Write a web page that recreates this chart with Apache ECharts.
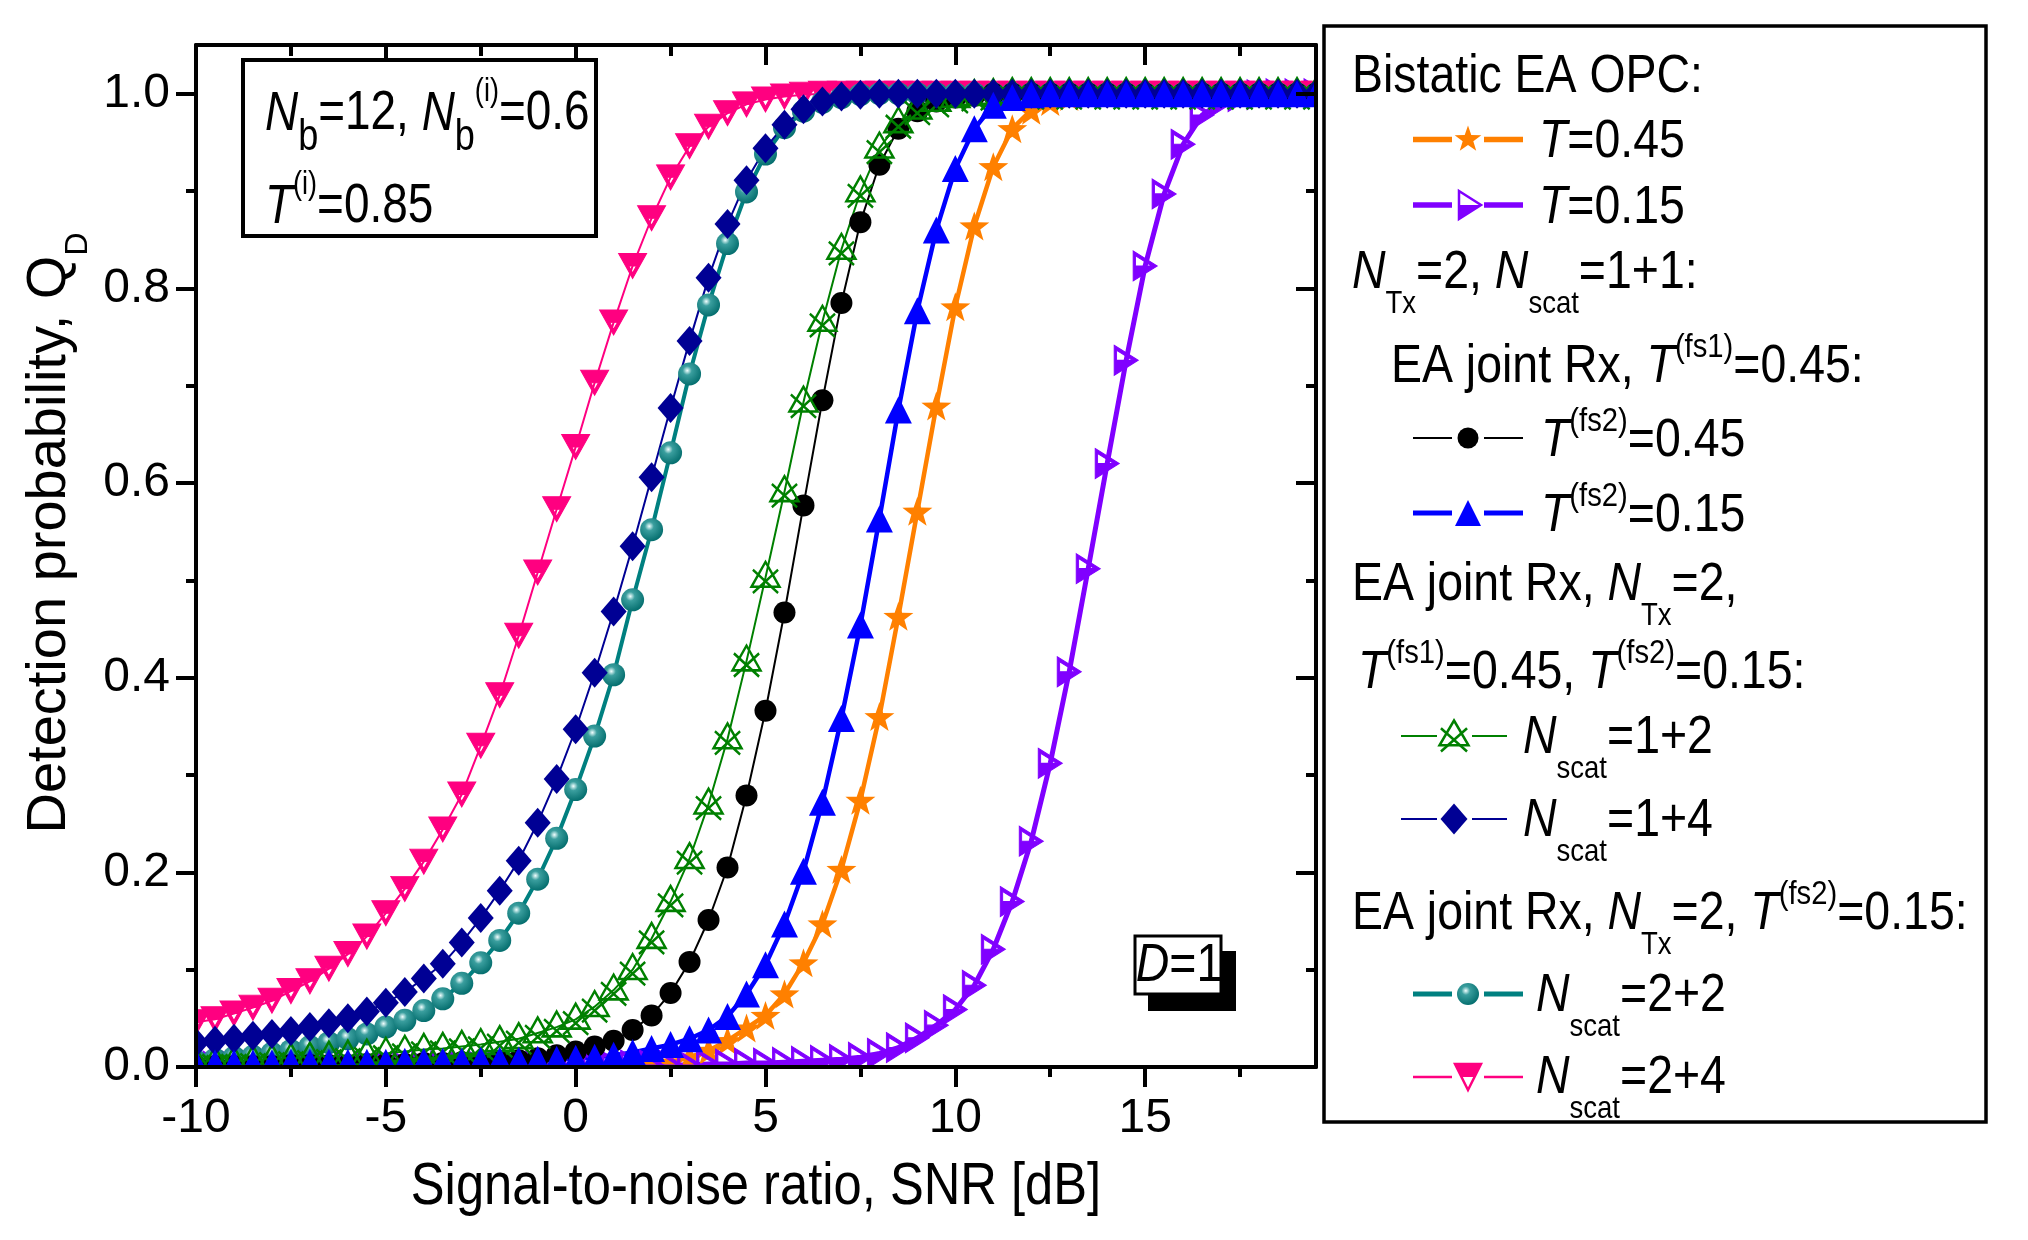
<!DOCTYPE html>
<html>
<head>
<meta charset="utf-8">
<title>Detection probability vs SNR</title>
<script src="https://cdn.jsdelivr.net/npm/echarts@6.0.0/dist/echarts.min.js"></script>
<style>
html, body { margin: 0; padding: 0; background: #fff; }
#chart { width: 2028px; height: 1240px; }
</style>
</head>
<body>
<div id="chart"></div>
<script>
// SNR grid [dB]
var snr = [-10, -9.5, -9, -8.5, -8, -7.5, -7, -6.5, -6, -5.5,
  -5, -4.5, -4, -3.5, -3, -2.5, -2, -1.5, -1, -0.5,
  0, 0.5, 1, 1.5, 2, 2.5, 3, 3.5, 4, 4.5,
  5, 5.5, 6, 6.5, 7, 7.5, 8, 8.5, 9, 9.5,
  10, 10.5, 11, 11.5, 12, 12.5, 13, 13.5, 14, 14.5,
  15, 15.5, 16, 16.5, 17, 17.5, 18, 18.5, 19, 19.5];

// Bistatic EA OPC, T=0.45
var opcT045 = [0, 0, 0, 0, 0, 0, 0, 0, 0, 0,
  0, 0, 0, 0, 0, 0, 0, 0, 0, 0,
  0, 0.001, 0.001, 0.002, 0.003, 0.005, 0.010, 0.017, 0.027, 0.040,
  0.053, 0.075, 0.107, 0.147, 0.203, 0.274, 0.360, 0.463, 0.571, 0.679,
  0.781, 0.864, 0.925, 0.964, 0.983, 0.992, 0.997, 0.999, 1, 1,
  1, 1, 1, 1, 1, 1, 1, 1, 1, 1];
// Bistatic EA OPC, T=0.15
var opcT015 = [0.001, 0.001, 0.001, 0.001, 0.001, 0.001, 0.001, 0.001, 0.001, 0.001,
  0.001, 0.001, 0.001, 0.001, 0.001, 0.001, 0.001, 0.001, 0.001, 0.001,
  0.001, 0.001, 0.001, 0.002, 0.002, 0.002, 0.002, 0.003, 0.003, 0.004,
  0.004, 0.005, 0.006, 0.007, 0.008, 0.010, 0.014, 0.020, 0.030, 0.043,
  0.059, 0.084, 0.121, 0.170, 0.232, 0.312, 0.406, 0.512, 0.620, 0.726,
  0.823, 0.897, 0.948, 0.978, 0.991, 0.997, 0.999, 1, 1, 1];
// EA joint Rx, T(fs1)=0.45, T(fs2)=0.45
var jointFs045 = [0.001, 0.001, 0.001, 0.001, 0.001, 0.002, 0.002, 0.002, 0.002, 0.003,
  0.003, 0.003, 0.004, 0.004, 0.005, 0.005, 0.006, 0.007, 0.009, 0.012,
  0.016, 0.021, 0.027, 0.038, 0.053, 0.076, 0.108, 0.151, 0.205, 0.279,
  0.366, 0.467, 0.577, 0.685, 0.785, 0.868, 0.927, 0.964, 0.982, 0.992,
  0.996, 0.998, 1, 1, 1, 1, 1, 1, 1, 1,
  1, 1, 1, 1, 1, 1, 1, 1, 1, 1];
// EA joint Rx, T(fs1)=0.45, T(fs2)=0.15
var jointFs015 = [0.004, 0.004, 0.004, 0.004, 0.004, 0.005, 0.005, 0.005, 0.005, 0.005,
  0.005, 0.006, 0.006, 0.006, 0.006, 0.007, 0.007, 0.007, 0.008, 0.008,
  0.009, 0.010, 0.012, 0.015, 0.019, 0.023, 0.029, 0.038, 0.052, 0.075,
  0.105, 0.147, 0.201, 0.272, 0.358, 0.454, 0.563, 0.675, 0.777, 0.860,
  0.923, 0.964, 0.988, 0.996, 0.999, 1, 1, 1, 1, 1,
  1, 1, 1, 1, 1, 1, 1, 1, 1, 1];
// Nscat = 1+2
var scat12 = [0.004, 0.005, 0.005, 0.006, 0.007, 0.008, 0.009, 0.010, 0.011, 0.012,
  0.014, 0.016, 0.018, 0.019, 0.021, 0.023, 0.026, 0.029, 0.035, 0.041,
  0.049, 0.062, 0.079, 0.100, 0.132, 0.170, 0.214, 0.270, 0.337, 0.417,
  0.503, 0.591, 0.683, 0.766, 0.840, 0.899, 0.944, 0.970, 0.984, 0.992,
  0.996, 0.998, 0.999, 1, 1, 1, 1, 1, 1, 1,
  1, 1, 1, 1, 1, 1, 1, 1, 1, 1];
// Nscat = 1+4
var scat14 = [0.025, 0.027, 0.029, 0.032, 0.034, 0.037, 0.041, 0.045, 0.050, 0.057,
  0.066, 0.077, 0.091, 0.106, 0.128, 0.153, 0.181, 0.212, 0.251, 0.296,
  0.347, 0.405, 0.468, 0.535, 0.606, 0.677, 0.746, 0.811, 0.866, 0.911,
  0.944, 0.968, 0.984, 0.992, 0.997, 0.999, 1, 1, 1, 1,
  1, 1, 1, 1, 1, 1, 1, 1, 1, 1,
  1, 1, 1, 1, 1, 1, 1, 1, 1, 1];
// Nscat = 2+2
var scat22 = [0.006, 0.008, 0.010, 0.011, 0.014, 0.017, 0.021, 0.025, 0.029, 0.034,
  0.041, 0.048, 0.058, 0.070, 0.086, 0.107, 0.130, 0.158, 0.193, 0.235,
  0.285, 0.340, 0.403, 0.480, 0.552, 0.631, 0.712, 0.783, 0.846, 0.899,
  0.938, 0.965, 0.982, 0.991, 0.996, 0.999, 1, 1, 1, 1,
  1, 1, 1, 1, 1, 1, 1, 1, 1, 1,
  1, 1, 1, 1, 1, 1, 1, 1, 1, 1];
// Nscat = 2+4
var scat24 = [0.046, 0.049, 0.055, 0.061, 0.068, 0.078, 0.088, 0.101, 0.116, 0.134,
  0.158, 0.183, 0.211, 0.244, 0.280, 0.330, 0.382, 0.443, 0.508, 0.573,
  0.637, 0.703, 0.765, 0.823, 0.872, 0.914, 0.946, 0.966, 0.980, 0.989,
  0.994, 0.997, 0.999, 1, 1, 1, 1, 1, 1, 1,
  1, 1, 1, 1, 1, 1, 1, 1, 1, 1,
  1, 1, 1, 1, 1, 1, 1, 1, 1, 1];

var xMajor = [-10, -5, 0, 5, 10, 15];
var xMinor = [-7.5, -2.5, 2.5, 7.5, 12.5, 17.5];
var yMajor = [0, 0.2, 0.4, 0.6, 0.8, 1.0];
var yMinor = [0.1, 0.3, 0.5, 0.7, 0.9];

var FONT = "'Liberation Sans', Arial, sans-serif";

// marker outlines in a 0..100 box
function starPoints(cx, cy, R, r) {
  var pts = [];
  for (var k = 0; k < 10; k++) {
    var a = -Math.PI / 2 + k * Math.PI / 5;
    var rr = k % 2 ? r : R;
    pts.push([cx + rr * Math.cos(a), cy + rr * Math.sin(a)]);
  }
  return pts;
}
var STAR = starPoints(50, 50, 50, 20);
var TRI_RIGHT = [[0, 0], [100, 50], [0, 100]];
var TRI_RIGHT_HOLE = [[10, 16.2], [10, 50], [77.6, 50]];
var TRI_DOWN = [[0, 0], [100, 0], [50, 100]];
var TRI_DOWN_HOLE = [[36.2, 50], [50, 77.6], [63.8, 50]];
var CROSS_TRI = [[50, 0], [100, 80], [0, 80]];
var CROSS_A = [[5, 25], [95, 100]];
var CROSS_B = [[95, 25], [5, 100]];

function poly(pts, close) {
  return 'M' + pts.map(function (p) { return p[0].toFixed(1) + ' ' + p[1].toFixed(1); }).join(' L') + (close ? ' Z' : '');
}
var starSym = 'path://' + poly(STAR, true);
var halfRightSym = 'path://' + poly(TRI_RIGHT, true) + ' ' + poly(TRI_RIGHT_HOLE, true);
var halfDownSym = 'path://' + poly(TRI_DOWN, true) + ' ' + poly(TRI_DOWN_HOLE, true);
var crossSym = 'path://' + poly(CROSS_TRI, true) + ' ' + poly(CROSS_A) + ' ' + poly(CROSS_B);

function sphere(base, dark) {
  return { type: 'radial', x: 0.4, y: 0.35, r: 0.7,
    colorStops: [{ offset: 0, color: '#f2ffff' }, { offset: 0.28, color: base }, { offset: 1, color: dark }] };
}

function mk(vals, o) {
  var s = {
    type: 'line',
    data: snr.map(function (x, i) { return [x, vals[i]]; }),
    showSymbol: true, showAllSymbol: true, silent: true,
    emphasis: { disabled: true }, symbolKeepAspect: false
  };
  for (var k in o) s[k] = o[k];
  return s;
}

// drawing order: later entries sit on top
var series = [
  mk(opcT045, { name: 'T=0.45', symbol: starSym, symbolSize: [30, 29],
    lineStyle: { color: '#FF8000', width: 4.5 }, itemStyle: { color: '#FF8000', borderWidth: 0 } }),
  mk(opcT015, { name: 'T=0.15', symbol: halfRightSym, symbolSize: [24, 30],
    lineStyle: { color: '#8000FF', width: 5 }, itemStyle: { color: '#8000FF', borderColor: '#8000FF', borderWidth: 1 } }),
  mk(scat24, { name: 'Nscat=2+4', symbol: halfDownSym, symbolSize: [28, 25],
    lineStyle: { color: '#FF0080', width: 2 }, itemStyle: { color: '#FF0080', borderColor: '#FF0080', borderWidth: 1 } }),
  mk(scat22, { name: 'Nscat=2+2', symbol: 'circle', symbolSize: 23,
    lineStyle: { color: '#008080', width: 4 }, itemStyle: { color: sphere('#3a9e9e', '#006a6a'), borderWidth: 0 } }),
  mk(jointFs045, { name: 'T(fs2)=0.45', symbol: 'circle', symbolSize: 22,
    lineStyle: { color: '#000000', width: 2 }, itemStyle: { color: '#000000', borderWidth: 0 } }),
  mk(scat12, { name: 'Nscat=1+2', symbol: crossSym, symbolSize: [28, 31],
    lineStyle: { color: '#008000', width: 2 }, itemStyle: { color: 'rgba(0,0,0,0)', borderColor: '#008000', borderWidth: 2.5 } }),
  mk(scat14, { name: 'Nscat=1+4', symbol: 'diamond', symbolSize: [26, 30],
    lineStyle: { color: '#000094', width: 2 }, itemStyle: { color: '#000094', borderWidth: 0 } }),
  mk(jointFs015, { name: 'T(fs2)=0.15', symbol: 'triangle', symbolSize: 27,
    lineStyle: { color: '#0000FF', width: 4.5 }, itemStyle: { color: '#0000FF', borderWidth: 0 } })
];

var black = '#000';
function axis(kind, pos, values, len, inside, showLine, labels) {
  var a = {
    type: 'value', position: pos, z: 10,
    min: kind === 'x' ? -10 : 0, max: kind === 'x' ? 19.5 : 1.05,
    axisLine: { show: showLine, onZero: false, lineStyle: { color: black, width: 4 } },
    axisTick: { show: true, inside: inside, length: len, customValues: values, lineStyle: { color: black, width: 4 } },
    axisLabel: { show: false },
    splitLine: { show: false }
  };
  if (labels) a.axisLabel = labels;
  return a;
}

var xAxes = [
  axis('x', 'bottom', xMajor, 20, false, true, {
    show: true, customValues: xMajor, fontSize: 48, fontFamily: FONT, color: black, margin: 28 }),
  axis('x', 'bottom', xMinor, 10, false, false),
  axis('x', 'top', xMajor, 20, true, true),
  axis('x', 'top', xMinor, 11, true, false)
];
var yAxes = [
  axis('y', 'left', yMajor, 20, false, true, {
    show: true, customValues: yMajor, fontSize: 48, fontFamily: FONT, color: black, margin: 26,
    formatter: function (v) { return v.toFixed(1); } }),
  axis('y', 'left', yMinor, 10, false, false),
  axis('y', 'right', yMajor, 20, true, true),
  axis('y', 'right', yMinor, 10, true, false)
];

function richSet(size, subSize, subShift, supSize, supShift) {
  return {
    n: { fontSize: size, fontFamily: FONT, verticalAlign: 'middle' },
    i: { fontSize: size, fontFamily: FONT, fontStyle: 'italic', verticalAlign: 'middle' },
    sub: { fontSize: subSize, fontFamily: FONT, verticalAlign: 'middle', padding: [subShift * 2, 0, 0, 0] },
    sup: { fontSize: supSize, fontFamily: FONT, verticalAlign: 'middle', padding: [0, 0, supShift * 2, 0] }
  };
}
var legendRich = richSet(54, 32, 31, 34, 19);
var insetRich = richSet(56, 44, 24, 33, 22);

// the source uses a condensed face; squeeze horizontally to match
function txt(x, y, text, rich, sx, align) {
  return { type: 'text', z: 21, x: x, y: y, scaleX: sx,
    style: { text: text, x: 0, y: 0, rich: rich, fill: black, align: align || 'left', verticalAlign: 'middle',
      fontSize: 54, fontFamily: FONT } };
}
function seg(x1, x2, y, color, w) {
  return { type: 'line', z: 21, shape: { x1: x1, y1: y, x2: x2, y2: y }, style: { stroke: color, lineWidth: w } };
}
function place(pts, cx, cy, w, h) {
  return pts.map(function (p) { return [cx - w / 2 + p[0] / 100 * w, cy - h / 2 + p[1] / 100 * h]; });
}
function polyEl(pts, style) { return { type: 'polygon', z: 22, shape: { points: pts }, style: style }; }
function lineEl(pts, color, w) {
  return { type: 'line', z: 22, shape: { x1: pts[0][0], y1: pts[0][1], x2: pts[1][0], y2: pts[1][1] }, style: { stroke: color, lineWidth: w } };
}
function sampleRow(y, mx, lineColor, lw) {
  var a = mx === 1468 ? [1413, 1452, 1484, 1523] : [1401, 1437, 1472, 1507];
  return [seg(a[0], a[1], y, lineColor, lw), seg(a[2], a[3], y, lineColor, lw)];
}

var LS = 0.86;
var graphics = [
  // white mask outside the frame so markers look clipped
  { type: 'rect', z: 5, shape: { x: 100, y: 0, width: 94, height: 1100 }, style: { fill: '#fff' } },
  { type: 'rect', z: 5, shape: { x: 100, y: 1069, width: 1230, height: 28 }, style: { fill: '#fff' } },
  { type: 'rect', z: 5, shape: { x: 100, y: 0, width: 1230, height: 43 }, style: { fill: '#fff' } },
  { type: 'rect', z: 5, shape: { x: 1318, y: 0, width: 12, height: 1100 }, style: { fill: '#fff' } },

  // axis titles
  { type: 'text', z: 21, x: 756, y: 1187, scaleX: 0.845,
    style: { text: 'Signal-to-noise ratio, SNR [dB]', fontSize: 60, fontFamily: FONT, fill: black, align: 'center', verticalAlign: 'middle' } },
  { type: 'text', z: 21, x: 50, y: 533, rotation: Math.PI / 2,
    style: { text: '{n|Detection probability, Q}{sub|D}', x: 0, y: 0, align: 'center', verticalAlign: 'middle',
      rich: richSet(56, 32, 28, 32, 14), fill: black } },

  // inset parameters box
  { type: 'rect', z: 20, shape: { x: 243, y: 60, width: 353, height: 176 }, style: { fill: '#fff', stroke: black, lineWidth: 4 } },
  txt(265, 114, '{i|N}{sub|b}{n|=12, }{i|N}{sub|b}{sup|(i)}{n|=0.6}', insetRich, 0.82),
  txt(265, 207, '{i|T}{sup|(i)}{n|=0.85}', insetRich, 0.82),

  // D=1 label with shadow
  { type: 'rect', z: 20, shape: { x: 1148, y: 951, width: 88, height: 60 }, style: { fill: black } },
  { type: 'rect', z: 20, shape: { x: 1135, y: 936, width: 86, height: 58 }, style: { fill: '#fff', stroke: black, lineWidth: 3 } },
  txt(1179, 966, '{i|D}{n|=1}', legendRich, 0.86, 'center'),

  // legend frame
  { type: 'rect', z: 20, shape: { x: 1324, y: 26, width: 662, height: 1096 }, style: { fill: '#fff', stroke: black, lineWidth: 3.5 } },
  txt(1352, 77, '{n|Bistatic EA OPC:}', legendRich, LS),
  txt(1539, 142, '{i|T}{n|=0.45}', legendRich, LS),
  txt(1539, 208, '{i|T}{n|=0.15}', legendRich, LS),
  txt(1352, 273, '{i|N}{sub|Tx}{n|=2, }{i|N}{sub|scat}{n|=1+1:}', legendRich, LS),
  txt(1391, 367, '{n|EA joint Rx, }{i|T}{sup|(fs1)}{n|=0.45:}', legendRich, LS),
  txt(1541, 441, '{i|T}{sup|(fs2)}{n|=0.45}', legendRich, LS),
  txt(1541, 516, '{i|T}{sup|(fs2)}{n|=0.15}', legendRich, LS),
  txt(1352, 585, '{n|EA joint Rx, }{i|N}{sub|Tx}{n|=2,}', legendRich, LS),
  txt(1358, 673, '{i|T}{sup|(fs1)}{n|=0.45, }{i|T}{sup|(fs2)}{n|=0.15:}', legendRich, LS),
  txt(1523, 738, '{i|N}{sub|scat}{n|=1+2}', legendRich, LS),
  txt(1523, 821, '{i|N}{sub|scat}{n|=1+4}', legendRich, LS),
  txt(1352, 914, '{n|EA joint Rx, }{i|N}{sub|Tx}{n|=2, }{i|T}{sup|(fs2)}{n|=0.15:}', legendRich, LS),
  txt(1536, 996, '{i|N}{sub|scat}{n|=2+2}', legendRich, LS),
  txt(1536, 1078, '{i|N}{sub|scat}{n|=2+4}', legendRich, LS)
];

// legend samples
graphics = graphics.concat(
  sampleRow(139.5, 1468, '#FF8000', 5.5),
  [polyEl(place(STAR, 1468, 139.5, 28, 28), { fill: '#FF8000' })],
  sampleRow(205, 1468, '#8000FF', 5.5),
  [polyEl(place(TRI_RIGHT, 1470, 205, 22, 28), { fill: '#fff', stroke: '#8000FF', lineWidth: 2.5 }),
   polyEl(place([[0, 50], [100, 50], [0, 100]], 1470, 205, 22, 28), { fill: '#8000FF' })],
  sampleRow(438, 1468, '#000000', 2),
  [{ type: 'circle', z: 22, shape: { cx: 1468, cy: 438, r: 10.5 }, style: { fill: '#000' } }],
  sampleRow(513, 1468, '#0000FF', 5),
  [polyEl(place([[50, 0], [100, 100], [0, 100]], 1468, 513, 26, 26), { fill: '#0000FF' })],
  sampleRow(736, 1454, '#008000', 2),
  [polyEl(place(CROSS_TRI, 1454, 736, 29, 31), { fill: 'none', stroke: '#008000', lineWidth: 2.5 }),
   lineEl(place(CROSS_A, 1454, 736, 29, 31), '#008000', 2.5),
   lineEl(place(CROSS_B, 1454, 736, 29, 31), '#008000', 2.5)],
  sampleRow(819, 1454, '#000094', 2),
  [polyEl(place([[50, 0], [100, 50], [50, 100], [0, 50]], 1454, 819, 27, 31), { fill: '#000094' })],
  sampleRow(994, 1468, '#008080', 5),
  [{ type: 'circle', z: 22, shape: { cx: 1468, cy: 994, r: 11 }, style: { fill: sphere('#3a9e9e', '#006a6a') } }],
  sampleRow(1077, 1468, '#FF0080', 2.5),
  [polyEl(place(TRI_DOWN, 1468, 1077, 26, 26), { fill: '#fff', stroke: '#FF0080', lineWidth: 2.5 }),
   polyEl(place([[0, 0], [100, 0], [75, 50], [25, 50]], 1468, 1077, 26, 26), { fill: '#FF0080' })]
);

var chart = echarts.init(document.getElementById('chart'));
chart.setOption({
  animation: false,
  backgroundColor: '#fff',
  grid: { left: 196, top: 45, width: 1120, height: 1022, containLabel: false, outerBoundsMode: 'none' },
  xAxis: xAxes,
  yAxis: yAxes,
  series: series,
  graphic: { elements: graphics }
});
</script>
</body>
</html>
